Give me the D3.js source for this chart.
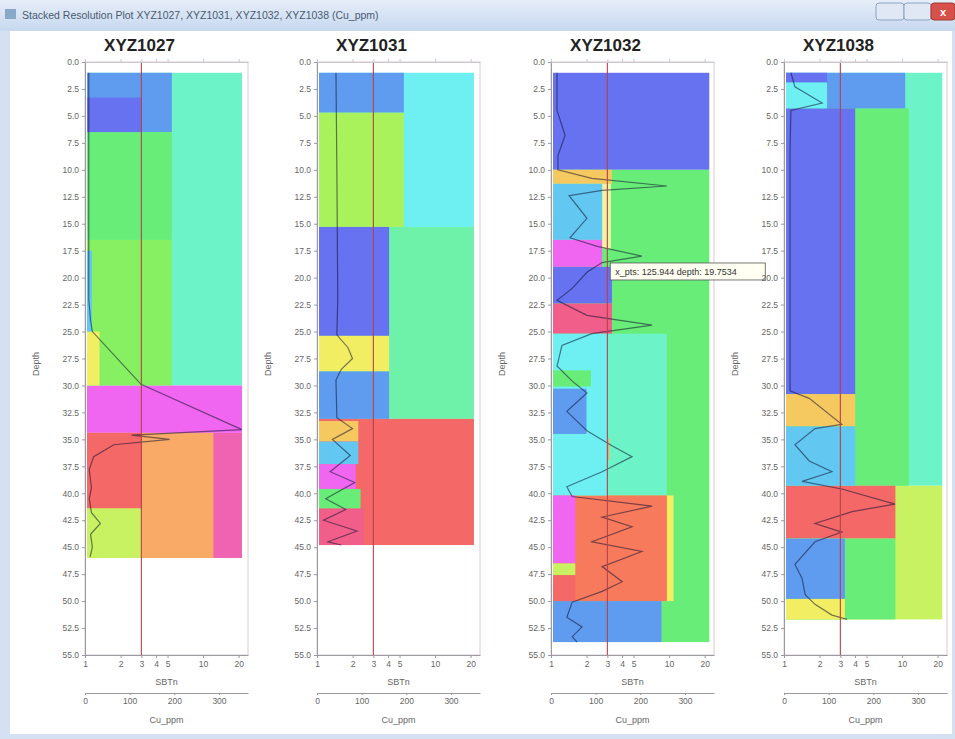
<!DOCTYPE html>
<html>
<head>
<meta charset="utf-8">
<script src="https://cdn.jsdelivr.net/npm/d3@7"></script>
<style>
body { margin: 0; background: #fff; }
svg { display: block; font-family: Arial, "Liberation Sans", sans-serif; }
</style>
</head>
<body>
<svg id="chart" width="955" height="739"></svg>
<script>
const windowTitle = 'Stacked Resolution Plot XYZ1027, XYZ1031, XYZ1032, XYZ1038 (Cu_ppm)'
const wells = ['XYZ1027', 'XYZ1031', 'XYZ1032', 'XYZ1038']
const depthTicks = [0, 2.5, 5, 7.5, 10, 12.5, 15, 17.5, 20, 22.5, 25, 27.5, 30, 32.5, 35, 37.5, 40, 42.5, 45, 47.5, 50, 52.5, 55]
const sbtTicks = [1, 2, 3, 4, 5, 10, 20]
const cuTicks = [0, 100, 200, 300]
const sbtCut = 3

// blocks: [top depth, bottom depth, Cu_ppm, cluster]
const blocks1027 = [
	[1, 30, 347, 'aqua'], [30, 34.4, 347, 'magenta'], [34.4, 46, 347, 'pink'],
	[1, 6.5, 190, 'cornflower'], [6.5, 16.5, 190, 'green'], [16.5, 30, 190, 'lawn'], [34.4, 46, 283, 'orange'],
	[3.3, 6.5, 123, 'royal'], [17.5, 25, 11, 'sky'], [25, 30, 28, 'yellow'], [34.4, 41.4, 123, 'red'], [41.4, 46, 123, 'lime']
]
const blocks1031 = [
	[1, 15.3, 347, 'cyan'], [15.3, 33.1, 347, 'mint'], [33.1, 44.8, 347, 'red'],
	[1, 4.7, 190, 'cornflower'], [4.7, 15.3, 190, 'yellowgreen'], [15.3, 25.4, 157, 'royal'],
	[25.4, 28.7, 157, 'yellow'], [28.7, 33.1, 157, 'cornflower'],
	[33.3, 35.2, 88, 'gold'], [35.2, 37.3, 88, 'sky'], [37.3, 39.6, 82, 'magenta'],
	[39.6, 41.4, 93, 'green'], [41.4, 44.8, 100, 'crimson']
]
const blocks1032 = [
	[1, 10, 350, 'royal'], [10, 53.8, 350, 'green'],
	[25.2, 40.2, 255, 'aqua'], [40.2, 50, 270, 'yellow'], [40.2, 50, 255, 'salmon'], [50, 53.8, 243, 'cornflower'],
	[10, 11.3, 132, 'gold'], [11.3, 17.3, 130, 'pale'], [11.3, 16.5, 110, 'sky'], [16.5, 19, 110, 'magenta'],
	[19, 22.4, 132, 'royal'], [22.4, 25.2, 132, 'crimson'], [25.2, 40.2, 122, 'cyan'], [28.6, 30.1, 85, 'green'],
	[30.3, 34.5, 75, 'cornflower'], [34.9, 36.9, 126, 'orange'],
	[40.2, 46.5, 50, 'magenta'], [46.5, 47.6, 50, 'lime'], [47.6, 50, 50, 'red']
]
const blocks1038 = [
	[1, 39.3, 350, 'aqua'], [39.3, 51.7, 350, 'lime'],
	[1, 4.3, 267, 'cornflower'], [4.3, 39.3, 275, 'green'], [39.3, 44.2, 245, 'red'], [44.2, 51.7, 245, 'green'],
	[1, 1.9, 92, 'royal'], [1.9, 4.3, 92, 'cyan'], [4.3, 30.8, 155, 'royal'], [30.8, 33.8, 155, 'gold'],
	[33.8, 39.3, 155, 'sky'], [44.2, 49.8, 132, 'cornflower'], [49.8, 51.7, 132, 'yellow']
]

// Cu trace: [depth, Cu_ppm]
const line1027 = [
	[1, 4], [22, 4], [24, 8], [25, 12], [29.9, 121], [34.1, 347], [34.6, 100], [35, 185], [35.5, 60],
	[36.6, 15], [37.8, 5], [39.5, 10], [40.5, 5], [41.8, 10], [42.8, 30], [43.8, 8], [45, 12], [45.9, 7]
]
const line1031 = [
	[1, 38], [10, 40], [22, 42], [25.3, 40], [26.5, 65], [27.5, 75], [28.5, 50], [29.5, 38], [33, 40],
	[34, 75], [35, 30], [36.5, 70], [38, 25], [39, 80], [40.5, 15], [41.5, 60], [42.5, 10], [43.5, 85], [44.5, 20], [44.8, 50]
]
const line1032 = [
	[1, 9], [4.5, 9], [6.8, 27], [8.7, 11], [10, 11], [10.8, 87], [11.5, 255], [11.9, 110], [12.4, 36],
	[14.5, 76], [16.3, 38], [17.1, 99], [18, 199], [18.6, 110], [19.5, 76], [21, 43], [22.1, 9], [23.5, 76],
	[24.4, 222], [25.2, 87], [26.3, 20], [28.2, 9], [29.6, 43], [30.7, 76], [32.4, 31], [34.2, 76], [35.6, 132],
	[36.6, 177], [38, 110], [39.4, 31], [40.3, 43], [41.2, 222], [42.2, 110], [43.1, 177], [44.5, 87], [45.4, 199],
	[46.8, 110], [48.2, 155], [49.1, 110], [50.1, 43], [51.5, 31], [52.4, 65], [53.3, 43], [53.8, 54]
]
const line1038 = [
	[1, 11], [2.3, 20], [3.8, 81], [4.5, 11], [8.2, 9], [30.5, 9], [31.2, 52], [33.6, 125], [34, 65],
	[35.5, 20], [37, 52], [38, 103], [38.9, 36], [39.6, 125], [41, 244], [41.7, 148], [42.8, 65], [43.6, 125],
	[44.5, 65], [46.6, 20], [47.9, 36], [49.4, 43], [50.3, 65], [51.3, 103], [51.7, 137]
]

const probe = { well: 'XYZ1032', cu: 125.944, depth: 19.7534, text: 'x_pts: 125.944  depth: 19.7534' }

const clusterColor = {
	royal: '#6672f0', cornflower: '#5f9cf0', sky: '#62c8f2', cyan: '#6ef0f2', aqua: '#6cf4c8',
	mint: '#6ef2aa', green: '#68ee78', lawn: '#86f062', yellowgreen: '#aaf25c', lime: '#c8f262',
	yellow: '#f2ee64', pale: '#eaf4a4', gold: '#f6c860', orange: '#f8aa66', salmon: '#f87a5c',
	red: '#f46868', crimson: '#f25e8a', pink: '#f062b2', magenta: '#f066f0'
}

const allBlocks = [blocks1027, blocks1031, blocks1032, blocks1038]
const allLines = [line1027, line1031, line1032, line1038]

const svg = d3.select('#chart')

// window frame
const defs = svg.append('defs')
const grad = defs.append('linearGradient').attr('id', 'tbar').attr('x1', 0).attr('y1', 0).attr('x2', 0).attr('y2', 1)
grad.append('stop').attr('offset', '0%').attr('stop-color', '#e6eef9')
grad.append('stop').attr('offset', '100%').attr('stop-color', '#c6d8ef')
svg.append('rect').attr('x', 0).attr('y', 0).attr('width', 955).attr('height', 739).attr('fill', '#d3e1f3')
svg.append('rect').attr('x', 0).attr('y', 0).attr('width', 955).attr('height', 31).attr('fill', 'url(#tbar)')
svg.append('rect').attr('x', 10).attr('y', 31).attr('width', 942).attr('height', 703).attr('fill', '#fff')
svg.append('rect').attr('x', 5).attr('y', 9).attr('width', 11).attr('height', 10).attr('fill', '#8aa8c8')
svg.append('text').attr('x', 22).attr('y', 19).attr('font-size', 10.5).attr('fill', '#4a5a70').text(windowTitle)
svg.append('rect').attr('x', 876).attr('y', 3).attr('width', 28).attr('height', 17).attr('rx', 3).attr('fill', '#dfe8f4').attr('stroke', '#8ea4c0')
svg.append('rect').attr('x', 904).attr('y', 3).attr('width', 27).attr('height', 17).attr('rx', 3).attr('fill', '#dfe8f4').attr('stroke', '#8ea4c0')
svg.append('rect').attr('x', 931).attr('y', 3).attr('width', 24).attr('height', 17).attr('rx', 3).attr('fill', '#d8504a').attr('stroke', '#a03a36')
svg.append('text').attr('x', 943).attr('y', 16).attr('text-anchor', 'middle').attr('font-size', 11).attr('font-weight', 'bold').attr('fill', '#fff').text('x')

const plotLefts = [85, 317, 551, 784]
const plotW = 163
const y = d3.scaleLinear().domain([0, 55]).range([62, 655])

wells.forEach((well, i) => {
	const x0 = plotLefts[i]
	const g = svg.append('g')
	const xl = d3.scaleLog().domain([1, 24]).range([x0, x0 + plotW])
	const xc = d3.scaleLinear().domain([0, 365]).range([x0, x0 + plotW])

	// blocks, coarse (widest) first
	const sorted = allBlocks[i].slice().sort((a, b) => b[2] - a[2])
	g.append('g').selectAll('rect')
		.data(sorted)
		.join('rect')
			.attr('x', xc(0) + 2)
			.attr('y', d => y(d[0]))
			.attr('width', d => xc(d[2]) - xc(0))
			.attr('height', d => y(d[1]) - y(d[0]))
			.attr('fill', d => clusterColor[d[3]])

	// Cu trace
	g.append('path')
		.datum(allLines[i])
		.attr('fill', 'none')
		.attr('stroke', '#101030')
		.attr('stroke-opacity', 0.55)
		.attr('stroke-width', 1.2)
		.attr('d', d3.line().x(d => xc(d[1]) + 2).y(d => y(d[0])))

	// frame
	g.append('rect').attr('x', x0).attr('y', y(0)).attr('width', plotW).attr('height', y(55) - y(0))
		.attr('fill', 'none').attr('stroke', '#e2c8cc').attr('stroke-width', 1)

	// cutoff line
	g.append('line').attr('x1', xl(sbtCut)).attr('x2', xl(sbtCut)).attr('y1', y(0)).attr('y2', y(55))
		.attr('stroke', '#b8404a').attr('stroke-width', 1.1)

	// top ticks
	g.append('g').attr('transform', 'translate(0,' + y(0) + ')')
		.call(d3.axisTop(xl).tickValues(sbtTicks).tickFormat('').tickSize(3).tickSizeOuter(0))
		.call(a => a.selectAll('line,path').attr('stroke', '#c8c8d0'))

	// depth axis
	g.append('g').attr('transform', 'translate(' + x0 + ',0)')
		.call(d3.axisLeft(y).tickValues(depthTicks).tickFormat(d3.format('.1f')).tickSize(3).tickSizeOuter(0))
		.call(a => a.selectAll('path,line').attr('stroke', '#9a9aa4'))
		.call(a => a.selectAll('text').attr('fill', '#666').attr('font-size', 8.5))

	// log axis
	g.append('g').attr('transform', 'translate(0,' + y(55) + ')')
		.call(d3.axisBottom(xl).tickValues(sbtTicks).tickFormat(d3.format('d')).tickSize(3).tickSizeOuter(0))
		.call(a => a.selectAll('path,line').attr('stroke', '#9a9aa4'))
		.call(a => a.selectAll('text').attr('fill', '#666').attr('font-size', 8.5))
	g.append('text').attr('x', x0 + plotW / 2).attr('y', 685).attr('text-anchor', 'middle')
		.attr('font-size', 9).attr('fill', '#666').text('SBTn')

	// Cu axis
	g.append('g').attr('transform', 'translate(0,693)')
		.call(d3.axisBottom(xc).tickValues(cuTicks).tickSize(2).tickSizeOuter(0))
		.call(a => a.selectAll('path,line').attr('stroke', '#9a9aa4'))
		.call(a => a.selectAll('text').attr('fill', '#666').attr('font-size', 8.5))
	g.append('text').attr('x', x0 + plotW / 2).attr('y', 723).attr('text-anchor', 'middle')
		.attr('font-size', 9).attr('fill', '#666').text('Cu_ppm')

	// depth label
	g.append('text').attr('transform', 'translate(' + (x0 - 46) + ',' + y(28) + ') rotate(-90)')
		.attr('text-anchor', 'middle').attr('font-size', 9).attr('fill', '#666').text('Depth')

	// well title
	g.append('text').attr('x', x0 + plotW / 2 - 27).attr('y', 51).attr('text-anchor', 'middle')
		.attr('font-size', 17).attr('font-weight', 'bold').attr('fill', '#222').text(well)

	// hover readout
	if (well === probe.well) {
		const px = xc(probe.cu) + 3, py = y(probe.depth)
		g.append('rect').attr('x', px).attr('y', py - 12).attr('width', 155).attr('height', 17)
			.attr('fill', '#fffff2').attr('stroke', '#555').attr('stroke-width', 0.8)
		g.append('text').attr('x', px + 5).attr('y', py).attr('font-size', 9).attr('fill', '#333').text(probe.text)
	}
})
</script>
</body>
</html>
